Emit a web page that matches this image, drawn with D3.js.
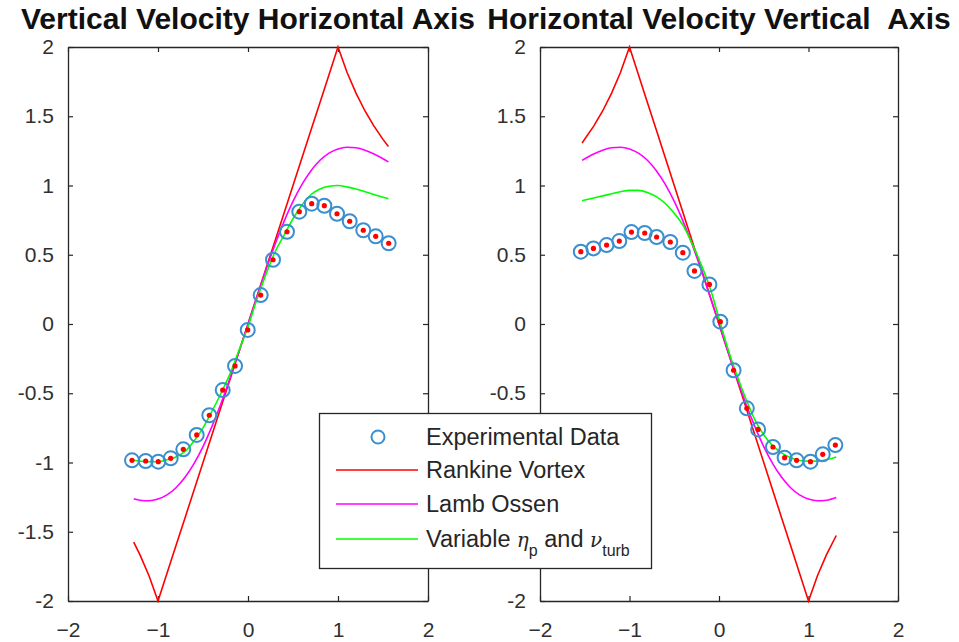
<!DOCTYPE html>
<html>
<head>
<meta charset="utf-8">
<script src="https://cdn.jsdelivr.net/npm/d3@7"></script>
<style>
  body { margin: 0; background: #fff; }
  svg { display: block; font-family: "Liberation Sans", Arial, Helvetica, sans-serif; }
</style>
</head>
<body>
<div id="chart"></div>
<script>
const titles = ['Vertical Velocity Horizontal Axis', 'Horizontal Velocity Vertical\u00a0\u00a0Axis'],
	xTicks = [-2, -1, 0, 1, 2],
	yTicks = [-2, -1.5, -1, -0.5, 0, 0.5, 1, 1.5, 2];

// left panel: measured points
const leftExpX = [-1.289, -1.137, -0.997, -0.859, -0.719, -0.570, -0.430, -0.281, -0.144, -0.003, 0.141,
	0.278, 0.433, 0.570, 0.708, 0.848, 0.989, 1.130, 1.281, 1.419, 1.563];
const leftExpY = [-0.984, -0.989, -0.994, -0.970, -0.905, -0.801, -0.659, -0.477, -0.303, -0.043, 0.209,
	0.464, 0.666, 0.811, 0.869, 0.854, 0.796, 0.742, 0.677, 0.633, 0.583];

// left panel: model curves
const leftModelX = [-1.27, -1.2, -1.1, -1.0, -0.9, -0.8, -0.7, -0.6, -0.5, -0.4, -0.3, -0.2, -0.1, 0,
	0.1, 0.2, 0.3, 0.4, 0.5, 0.6, 0.7, 0.8, 0.9, 1.0, 1.1, 1.2, 1.3, 1.4, 1.5, 1.56];
const leftRankine = [-1.575, -1.667, -1.818, -2, -1.8, -1.6, -1.4, -1.2, -1.0, -0.8, -0.6, -0.4, -0.2, 0,
	0.2, 0.4, 0.6, 0.8, 1.0, 1.2, 1.4, 1.6, 1.8, 2, 1.818, 1.667, 1.538, 1.429, 1.333, 1.282];
const leftLamb = [-1.261, -1.272, -1.276, -1.264, -1.234, -1.182, -1.107, -1.008, -0.885, -0.739, -0.574, -0.392, -0.199, 0,
	0.199, 0.392, 0.574, 0.739, 0.885, 1.008, 1.107, 1.182, 1.234, 1.264, 1.276, 1.272, 1.255, 1.227, 1.193, 1.170];
const leftVariable = [-0.984, -0.99, -0.995, -0.995, -0.98, -0.96, -0.92, -0.845, -0.75, -0.63, -0.50, -0.36, -0.19, -0.02,
	0.18, 0.36, 0.52, 0.64, 0.76, 0.86, 0.935, 0.975, 0.995, 1.0, 0.99, 0.975, 0.955, 0.935, 0.915, 0.905];

// right panel: measured points
const rightExpX = [-1.544, -1.403, -1.256, -1.114, -0.978, -0.830, -0.697, -0.544, -0.404, -0.274, -0.107,
	0.015, 0.163, 0.311, 0.437, 0.603, 0.733, 0.867, 1.022, 1.159, 1.300];
const rightExpY = [0.522, 0.546, 0.570, 0.599, 0.664, 0.657, 0.628, 0.592, 0.515, 0.383, 0.286,
	0.017, -0.334, -0.609, -0.761, -0.888, -0.965, -0.984, -0.994, -0.941, -0.874];

// right panel: model curves
const rightModelX = [-1.53, -1.4, -1.3, -1.2, -1.1, -1.0, -0.9, -0.8, -0.7, -0.6, -0.5, -0.4, -0.3, -0.2, -0.1, 0,
	0.1, 0.2, 0.3, 0.4, 0.5, 0.6, 0.7, 0.8, 0.9, 1.0, 1.1, 1.2, 1.31];
const rightRankine = [1.307, 1.429, 1.538, 1.667, 1.818, 2, 1.8, 1.6, 1.4, 1.2, 1.0, 0.8, 0.6, 0.4, 0.2, 0,
	-0.2, -0.4, -0.6, -0.8, -1.0, -1.2, -1.4, -1.6, -1.8, -2, -1.818, -1.667, -1.527];
const rightLamb = [1.181, 1.227, 1.255, 1.272, 1.276, 1.264, 1.234, 1.182, 1.107, 1.008, 0.885, 0.739, 0.574, 0.392, 0.199, 0,
	-0.199, -0.392, -0.574, -0.739, -0.885, -1.008, -1.107, -1.182, -1.234, -1.264, -1.276, -1.272, -1.252];
const rightVariable = [0.89, 0.91, 0.925, 0.94, 0.955, 0.965, 0.965, 0.95, 0.92, 0.87, 0.80, 0.71, 0.58, 0.43, 0.26, 0.04,
	-0.18, -0.37, -0.54, -0.69, -0.80, -0.88, -0.93, -0.965, -0.985, -0.99, -0.99, -0.98, -0.96];

const legendLabels = ['Experimental Data', 'Rankine Vortex', 'Lamb Ossen', 'Variable'];

const width = 959, height = 642,
	axisColor = '#262626',
	markerBlue = '#3a8fd0',
	lineColors = {rankine: '#ff0000', lamb: '#ff00ff', variable: '#00ff00'};

// legend box (drawn over both axes, as in the figure)
const legendBox = {x: 319.5, y: 413.5, w: 332, h: 155};

const svg = d3.select('#chart')
	.append('svg')
	.attr('width', width)
	.attr('height', height);

const panels = [
	{left: 68, right: 428, title: titles[0], ex: leftExpX, ey: leftExpY, mx: leftModelX,
		curves: [[leftRankine, 'rankine'], [leftLamb, 'lamb'], [leftVariable, 'variable']]},
	{left: 540, right: 898, title: titles[1], ex: rightExpX, ey: rightExpY, mx: rightModelX,
		curves: [[rightRankine, 'rankine'], [rightLamb, 'lamb'], [rightVariable, 'variable']]}
];

const plotTop = 47, plotBottom = 601;

panels.forEach(p => {
	const x = d3.scaleLinear().domain([-2, 2]).range([p.left, p.right]);
	const y = d3.scaleLinear().domain([-2, 2]).range([plotBottom, plotTop]);
	const g = svg.append('g');

	// axes (box on, ticks inside on all sides)
	const bx = d3.axisBottom(x).tickValues(xTicks).tickSizeInner(-5).tickSizeOuter(0).tickPadding(21)
		.tickFormat(d3.format('d'));
	const tx = d3.axisTop(x).tickValues(xTicks).tickSizeInner(-5).tickSizeOuter(0).tickFormat('');
	const ly = d3.axisLeft(y).tickValues(yTicks).tickSizeInner(-5).tickSizeOuter(0).tickPadding(14)
		.tickFormat(d => d);
	const ry = d3.axisRight(y).tickValues(yTicks).tickSizeInner(-5).tickSizeOuter(0).tickFormat('');

	g.append('g').attr('transform', `translate(0,${plotBottom})`).call(bx);
	g.append('g').attr('transform', `translate(0,${plotTop})`).call(tx);
	const yAxisG = g.append('g').attr('transform', `translate(${p.left},0)`).call(ly);
	g.append('g').attr('transform', `translate(${p.right},0)`).call(ry);

	// y labels that sit under the legend box are hidden in the figure
	yAxisG.selectAll('.tick')
		.filter(d => p.left > legendBox.x && p.left < legendBox.x + legendBox.w
			&& y(d) > legendBox.y && y(d) < legendBox.y + legendBox.h)
		.select('text').remove();

	g.selectAll('.domain').attr('stroke', axisColor).attr('stroke-width', 1.3);
	g.selectAll('.tick line').attr('stroke', axisColor).attr('stroke-width', 1.2);
	g.selectAll('.tick text')
		.attr('fill', '#303030')
		.style('font-size', '21px')
		.style('font-family', '"Liberation Sans", Arial, sans-serif');

	// model lines
	p.curves.forEach(([vals, key]) => {
		const line = d3.line()
			.x((d, i) => x(p.mx[i]))
			.y(d => y(d))
			.curve(key === 'rankine' ? d3.curveLinear : d3.curveMonotoneX);
		g.append('path')
			.datum(vals)
			.attr('d', line)
			.attr('fill', 'none')
			.attr('stroke', lineColors[key])
			.attr('stroke-width', 1.6);
	});

	// experimental circles + red dots
	g.selectAll('circle.exp')
		.data(p.ex)
		.enter()
		.append('circle')
			.attr('class', 'exp')
			.attr('cx', d => x(d))
			.attr('cy', (d, i) => y(p.ey[i]))
			.attr('r', 7)
			.attr('fill', 'none')
			.attr('stroke', markerBlue)
			.attr('stroke-width', 2);

	g.selectAll('circle.dot')
		.data(p.ex)
		.enter()
		.append('circle')
			.attr('class', 'dot')
			.attr('cx', d => x(d))
			.attr('cy', (d, i) => y(p.ey[i]))
			.attr('r', 2.6)
			.attr('fill', '#ff0000');

	// title
	svg.append('text')
		.attr('x', (p.left + p.right) / 2)
		.attr('y', 29)
		.attr('text-anchor', 'middle')
		.style('font-size', '30px')
		.style('font-weight', 'bold')
		.attr('fill', '#111')
		.text(p.title);
});

// legend on top of both panels
const lg = svg.append('g');
lg.append('rect')
	.attr('x', legendBox.x).attr('y', legendBox.y)
	.attr('width', legendBox.w).attr('height', legendBox.h)
	.attr('fill', '#fff')
	.attr('stroke', axisColor)
	.attr('stroke-width', 1.3);

const rowY = [437, 470, 504, 539];
lg.append('circle')
	.attr('cx', 378).attr('cy', rowY[0])
	.attr('r', 6.5)
	.attr('fill', 'none')
	.attr('stroke', markerBlue)
	.attr('stroke-width', 2);

[['rankine', 1], ['lamb', 2], ['variable', 3]].forEach(([key, i]) => {
	lg.append('line')
		.attr('x1', 336).attr('x2', 418)
		.attr('y1', rowY[i]).attr('y2', rowY[i])
		.attr('stroke', lineColors[key])
		.attr('stroke-width', 1.6);
});

legendLabels.forEach((t, i) => {
	const txt = lg.append('text')
		.attr('x', 426)
		.attr('y', rowY[i] + 8)
		.attr('fill', '#262626')
		.style('font-size', '23.5px');
	txt.append('tspan').text(t);
	if (i === 3) {
		txt.append('tspan').text(' \u03b7').style('font-style', 'italic').style('font-family', '"DejaVu Serif", serif').style('font-size', '20px');
		txt.append('tspan').text('p').attr('dy', 9).style('font-size', '16px');
		txt.append('tspan').text(' and ').attr('dy', -9);
		txt.append('tspan').text('\u03bd').style('font-style', 'italic').style('font-family', '"DejaVu Serif", serif').style('font-size', '20px');
		txt.append('tspan').text('turb').attr('dy', 9).style('font-size', '16px');
	}
});
</script>
</body>
</html>
